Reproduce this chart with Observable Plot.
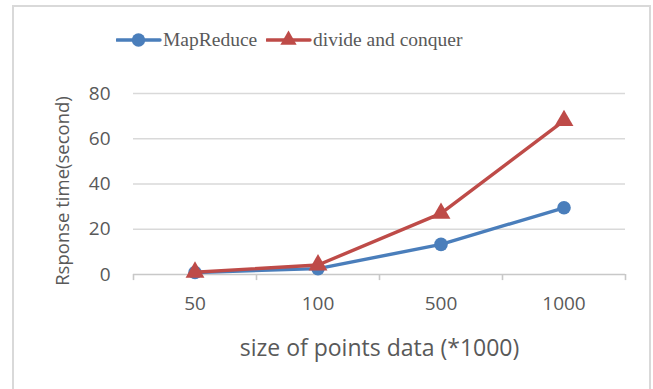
<!DOCTYPE html>
<html>
<head>
<meta charset="utf-8">
<script src="https://cdn.jsdelivr.net/npm/d3@7"></script>
<script src="https://cdn.jsdelivr.net/npm/@observablehq/plot@0.6"></script>
<style>
  html, body { margin: 0; padding: 0; background: #fff; overflow: hidden; }
  #wrap { position: relative; width: 653px; height: 389px; }
  #frame { position: absolute; left: 12px; top: 5px; width: 639px; height: 400px; border: 2px solid #d9d9d9; box-sizing: border-box; }
  #legend { position: absolute; left: 0; top: 27px; width: 653px; height: 26px; font-family: "Liberation Serif", "DejaVu Serif", serif; font-size: 19.5px; color: #595959; }
  #legend .item { position: absolute; top: 0; display: flex; align-items: center; height: 26px; }
  #chart { position: absolute; left: 0; top: 0; }
</style>
</head>
<body>
<div id="wrap">
  <div id="frame"></div>
  <div id="chart"></div>
  <div id="legend"></div>
</div>
<script>
const categories = ["50", "100", "500", "1000"];
const mapReduce = [0.9, 2.6, 13.3, 29.5];
const divideConquer = [1.0, 4.2, 27.0, 68.0];
const yTicks = [0, 20, 40, 60, 80];
const seriesNames = ["MapReduce", "divide and conquer"];
const colors = ["#4a7ebb", "#be4b48"];

const rows = [];
categories.forEach((c, i) => {
  rows.push({series: seriesNames[0], pos: i + 0.5, value: mapReduce[i]});
  rows.push({series: seriesNames[1], pos: i + 0.5, value: divideConquer[i]});
});
const mr = rows.filter(d => d.series === seriesNames[0]);
const dc = rows.filter(d => d.series === seriesNames[1]);
const boundaries = d3.range(categories.length + 1);

const font = "'Open Sans', 'Noto Sans', sans-serif";

const chart = Plot.plot({
  width: 653,
  height: 389,
  marginLeft: 133,
  marginRight: 28,
  marginTop: 93,
  marginBottom: 115,
  style: {fontFamily: font, fontSize: "18px", color: "#595959", background: "transparent"},
  x: {type: "linear", domain: [0, categories.length], axis: null},
  y: {domain: [0, 80], axis: null},
  marks: [
    Plot.ruleY(yTicks.filter(v => v > 0), {stroke: "#d9d9d9", strokeWidth: 1.6}),
    Plot.ruleY([0], {stroke: "#c8c8c8", strokeWidth: 1.6}),
    Plot.ruleX(boundaries, {y1: 0, y2: -2.7, stroke: "#c8c8c8", strokeWidth: 1.6}),
    Plot.text(yTicks, {x: 0, y: d => d, text: d => String(d), textAnchor: "end", dx: -23, fill: "#595959", fontSize: 19}),
    Plot.text(categories, {x: (d, i) => i + 0.5, y: 0, text: d => d, dy: 29, fill: "#595959", fontSize: 19}),
    Plot.text(["size of points data (*1000)"], {x: categories.length / 2, y: 0, text: d => d, dy: 74, fill: "#595959", fontSize: 23}),
    Plot.text(["Rsponse time(second)"], {x: 0, y: 40, text: d => d, rotate: -90, dx: -70, dy: 7, fill: "#595959", fontSize: 18.5}),
    Plot.line(mr, {x: "pos", y: "value", stroke: colors[0], strokeWidth: 3.4}),
    Plot.dot(mr, {x: "pos", y: "value", r: 6.8, fill: colors[0], stroke: "none", symbol: "circle"}),
    Plot.line(dc, {x: "pos", y: "value", stroke: colors[1], strokeWidth: 3.4}),
    Plot.dot(dc, {x: "pos", y: "value", r: 7, fill: colors[1], stroke: "none", symbol: "triangle"})
  ]
});
document.getElementById("chart").appendChild(chart);

// Legend
const legend = document.getElementById("legend");
const legendX = [116, 266];
seriesNames.forEach((name, i) => {
  const item = document.createElement("div");
  item.className = "item";
  item.style.left = legendX[i] + "px";
  const svg = d3.create("svg").attr("width", 46).attr("height", 26).style("display", "block");
  svg.append("line").attr("x1", 1).attr("x2", 44).attr("y1", 13).attr("y2", 13)
    .attr("stroke", colors[i]).attr("stroke-width", 3.4).attr("stroke-linecap", "round");
  const sym = i === 0 ? d3.symbolCircle : d3.symbolTriangle;
  svg.append("path").attr("d", d3.symbol(sym, i === 0 ? 140 : 115)())
    .attr("transform", "translate(22.5,13)").attr("fill", colors[i]);
  item.appendChild(svg.node());
  const span = document.createElement("span");
  span.textContent = name;
  span.style.marginLeft = "1px";
  item.appendChild(span);
  legend.appendChild(item);
});
</script>
</body>
</html>
